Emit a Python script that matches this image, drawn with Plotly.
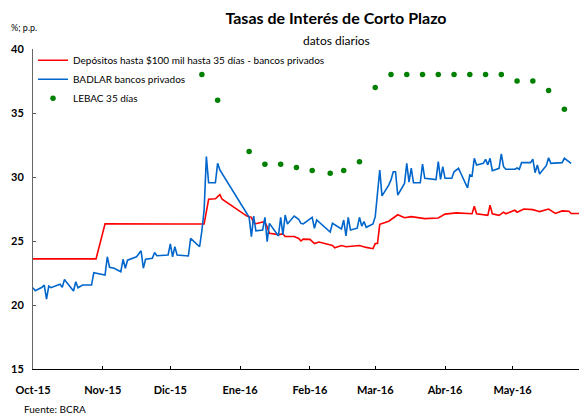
import plotly.graph_objects as go

# ---------------- data ----------------
dep_dates = ["2015-10-01", "2015-10-15", "2015-10-29", "2015-11-02", "2015-11-20", "2015-12-04",
             "2015-12-16", "2015-12-18", "2015-12-21", "2015-12-23", "2015-12-24", "2016-01-04",
             "2016-01-06", "2016-01-07", "2016-01-08", "2016-01-11", "2016-01-12", "2016-01-13",
             "2016-01-14", "2016-01-18", "2016-01-20", "2016-01-21", "2016-01-25", "2016-01-27",
             "2016-01-28", "2016-01-29", "2016-02-01", "2016-02-03", "2016-02-05", "2016-02-11",
             "2016-02-12", "2016-02-15", "2016-02-17", "2016-02-19", "2016-02-23", "2016-02-26",
             "2016-02-29", "2016-03-01", "2016-03-02", "2016-03-03", "2016-03-07", "2016-03-11",
             "2016-03-14", "2016-03-17", "2016-03-23", "2016-03-29", "2016-04-01", "2016-04-06",
             "2016-04-13", "2016-04-14", "2016-04-15", "2016-04-20", "2016-04-21", "2016-04-22",
             "2016-04-25", "2016-04-27", "2016-04-28", "2016-05-02", "2016-05-03", "2016-05-06",
             "2016-05-10", "2016-05-12", "2016-05-13", "2016-05-17", "2016-05-20", "2016-05-23",
             "2016-05-26", "2016-05-27", "2016-05-31"]
dep_values = [23.60, 23.62, 23.60, 26.35, 26.37, 26.33,
              26.33, 28.26, 28.30, 28.62, 28.26, 26.95,
              26.85, 26.43, 26.35, 26.48, 26.46, 26.10,
              25.60, 25.50, 25.55, 25.35, 25.35, 25.20,
              25.00, 25.15, 25.13, 24.80, 24.92, 24.65,
              24.47, 24.65, 24.55, 24.60, 24.65, 24.50,
              24.40, 24.80, 24.80, 26.30, 26.55, 27.05,
              26.82, 26.90, 26.75, 26.80, 27.10, 27.20,
              27.13, 27.72, 27.13, 27.00, 27.80, 27.13,
              27.00, 27.25, 27.13, 27.40, 27.25, 27.50,
              27.45, 27.35, 27.30, 27.50, 27.15, 27.35,
              27.32, 27.15, 27.15]

bad_dates = ["2015-10-01", "2015-10-02", "2015-10-05", "2015-10-06", "2015-10-07", "2015-10-08",
             "2015-10-09", "2015-10-13", "2015-10-14", "2015-10-15", "2015-10-16", "2015-10-19",
             "2015-10-20", "2015-10-21", "2015-10-23", "2015-10-27", "2015-10-28", "2015-11-02",
             "2015-11-03", "2015-11-04", "2015-11-06", "2015-11-09", "2015-11-10", "2015-11-11",
             "2015-11-12", "2015-11-16", "2015-11-18", "2015-11-19", "2015-11-20", "2015-11-23",
             "2015-11-24", "2015-11-25", "2015-11-30", "2015-12-01", "2015-12-02", "2015-12-03",
             "2015-12-04", "2015-12-09", "2015-12-10", "2015-12-14", "2015-12-15", "2015-12-16",
             "2015-12-17", "2015-12-18", "2015-12-21", "2015-12-22", "2015-12-23", "2016-01-04",
             "2016-01-05", "2016-01-06", "2016-01-07", "2016-01-08", "2016-01-11", "2016-01-12",
             "2016-01-13", "2016-01-14", "2016-01-15", "2016-01-18", "2016-01-19", "2016-01-20",
             "2016-01-21", "2016-01-22", "2016-01-25", "2016-01-27", "2016-01-28", "2016-01-29",
             "2016-02-02", "2016-02-03", "2016-02-04", "2016-02-10", "2016-02-11", "2016-02-15",
             "2016-02-16", "2016-02-17", "2016-02-18", "2016-02-19", "2016-02-22", "2016-02-23",
             "2016-02-24", "2016-02-25", "2016-02-26", "2016-02-29", "2016-03-01", "2016-03-02",
             "2016-03-03", "2016-03-04", "2016-03-07", "2016-03-08", "2016-03-09", "2016-03-10",
             "2016-03-11", "2016-03-14", "2016-03-15", "2016-03-16", "2016-03-17", "2016-03-18",
             "2016-03-21", "2016-03-22", "2016-03-23", "2016-03-28", "2016-03-29", "2016-03-30",
             "2016-03-31", "2016-04-01", "2016-04-04", "2016-04-05", "2016-04-07", "2016-04-08",
             "2016-04-11", "2016-04-12", "2016-04-13", "2016-04-14", "2016-04-15", "2016-04-18",
             "2016-04-19", "2016-04-20", "2016-04-21", "2016-04-22", "2016-04-25", "2016-04-26",
             "2016-04-27", "2016-04-28", "2016-05-02", "2016-05-03", "2016-05-04", "2016-05-05",
             "2016-05-09", "2016-05-10", "2016-05-11", "2016-05-12", "2016-05-13", "2016-05-16",
             "2016-05-17", "2016-05-18", "2016-05-23", "2016-05-24", "2016-05-27"]
bad_values = [21.35, 21.12, 21.38, 21.56, 20.45, 21.48,
              21.35, 21.62, 21.38, 22.00, 21.75, 21.09,
              21.82, 21.35, 21.56, 21.56, 22.52, 22.34,
              23.77, 22.95, 22.87, 22.60, 23.57, 22.87,
              23.50, 23.77, 24.24, 22.87, 23.57, 23.65,
              24.10, 23.85, 23.91, 24.77, 23.77, 24.55,
              23.91, 23.83, 25.21, 24.55, 25.80, 27.42,
              31.59, 29.55, 29.55, 31.07, 30.55, 27.21,
              26.85, 25.34, 26.95, 25.80, 25.86, 26.85,
              24.95, 26.38, 26.12, 25.39, 26.85, 25.47,
              27.03, 26.33, 26.95, 26.70, 26.38, 26.33,
              26.85, 25.99, 26.64, 25.70, 26.38, 25.94,
              26.64, 25.39, 26.85, 25.86, 26.00, 26.85,
              26.17, 26.51, 26.07, 26.33, 26.90, 29.00,
              30.55, 28.52, 29.37, 29.77, 30.41, 30.41,
              28.59, 29.50, 31.07, 29.60, 30.70, 29.55,
              29.55, 31.00, 29.90, 29.80, 31.20, 29.82,
              30.80, 29.90, 29.90, 30.41, 30.68, 30.29,
              29.15, 30.16, 30.08, 31.46, 30.94, 31.07,
              31.38, 30.95, 31.46, 30.49, 30.68, 31.80,
              30.80, 30.60, 30.60, 30.70, 30.60, 31.12,
              31.12, 31.40, 30.34, 30.94, 30.23, 30.90,
              31.50, 31.07, 31.12, 31.46, 31.07]

lebac_dates = ["2015-12-15", "2015-12-22", "2016-01-05", "2016-01-12", "2016-01-19", "2016-01-26",
               "2016-02-02", "2016-02-10", "2016-02-16", "2016-02-23", "2016-03-01", "2016-03-08",
               "2016-03-15", "2016-03-22", "2016-03-29", "2016-04-05", "2016-04-12", "2016-04-19",
               "2016-04-26", "2016-05-03", "2016-05-10", "2016-05-17", "2016-05-24"]
lebac_values = [38.0, 36.0, 32.0, 31.0, 31.0, 30.75,
                30.5, 30.3, 30.5, 31.2, 37.0, 38.0,
                38.0, 38.0, 38.0, 38.0, 38.0, 38.0,
                38.0, 37.5, 37.5, 36.75, 35.3]

tick_dates = ["2015-10-01", "2015-11-01", "2015-12-01", "2016-01-01",
              "2016-02-01", "2016-03-01", "2016-04-01", "2016-05-01"]
tick_labels = ["Oct-15", "Nov-15", "Dic-15", "Ene-16", "Feb-16", "Mar-16", "Abr-16", "May-16"]

FONT = "Lato"

fig = go.Figure()
fig.add_trace(go.Scatter(x=dep_dates, y=dep_values, mode="lines",
                         name="Depósitos hasta $100 mil hasta 35 días - bancos privados",
                         line=dict(color="#FF0000", width=1.6)))
fig.add_trace(go.Scatter(x=bad_dates, y=bad_values, mode="lines",
                         name="BADLAR bancos privados",
                         line=dict(color="#0066CC", width=1.6)))
fig.add_trace(go.Scatter(x=lebac_dates, y=lebac_values, mode="markers",
                         name="LEBAC 35 días",
                         marker=dict(color="#008000", size=5.5)))

fig.update_layout(
    width=579, height=416,
    margin=dict(l=33, r=0, t=49, b=47, autoexpand=False),
    paper_bgcolor="white", plot_bgcolor="white",
    font=dict(family=FONT, color="black"),
    title=dict(text="Tasas de Interés de Corto Plazo",
               x=336 / 579, xanchor="center", y=1 - 18 / 416, yanchor="middle",
               font=dict(family=FONT, size=16, weight=700, color="black")),
    legend=dict(x=0.0, y=1.01, xanchor="left", yanchor="top",
                bgcolor="rgba(0,0,0,0)", font=dict(family=FONT, size=10),
                tracegroupgap=0),
    showlegend=True,
)

fig.update_xaxes(type="date", range=["2015-10-01", "2016-05-30 12:00"],
                 tickmode="array", tickvals=tick_dates, ticktext=tick_labels,
                 ticks="inside", ticklen=3, tickcolor="black",
                 showline=True, linecolor="black", linewidth=1,
                 showgrid=False, zeroline=False, automargin=False,
                 tickfont=dict(family=FONT, size=11, weight=700, color="black"),
                 ticklabelstandoff=11)
fig.update_yaxes(range=[15, 40], dtick=5, tick0=15,
                 ticks="inside", ticklen=3, tickcolor="#555555",
                 showline=True, linecolor="#666666", linewidth=1,
                 showgrid=False, zeroline=False, automargin=False,
                 tickfont=dict(family=FONT, size=11, weight=700, color="black"),
                 ticklabelstandoff=6)

fig.add_annotation(text="datos diarios", xref="paper", yref="paper",
                   x=(336 - 33) / 546, y=1 + (49 - 40) / 320, xanchor="center", yanchor="middle",
                   showarrow=False, font=dict(family=FONT, size=12, color="black"))
fig.add_annotation(text="%; p.p.", xref="paper", yref="paper",
                   x=(9 - 33) / 546, y=1 + (49 - 28) / 320, xanchor="left", yanchor="middle",
                   showarrow=False, font=dict(family=FONT, size=9, color="black"))
fig.add_annotation(text="Fuente: BCRA", xref="paper", yref="paper",
                   x=(22 - 33) / 546, y=-(409 - 369) / 320, xanchor="left", yanchor="middle",
                   showarrow=False, font=dict(family=FONT, size=10, color="black"))

fig.write_html("out.html", config={"displayModeBar": False},
               post_script="document.body.style.margin='0';document.body.style.overflow='hidden';")
